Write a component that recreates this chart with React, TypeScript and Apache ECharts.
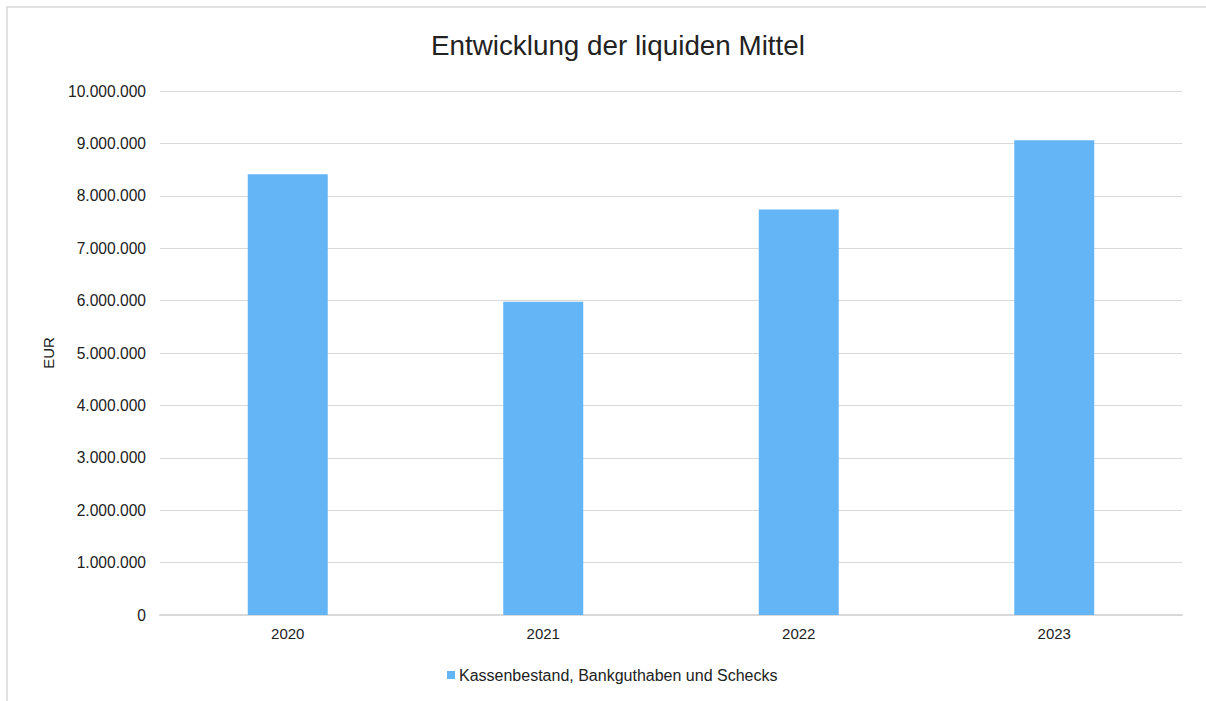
import React, { useEffect, useRef } from "react";
import * as echarts from "echarts";

const categories: string[] = ["2020", "2021", "2022", "2023"];
const seriesName = "Kassenbestand, Bankguthaben und Schecks";
const values: number[] = [8410000, 5980000, 7740000, 9060000];
const yMin = 0;
const yMax = 10000000;
const yInterval = 1000000;

const fmt = (v: number): string =>
  String(Math.round(v)).replace(/\B(?=(\d{3})+(?!\d))/g, ".");

const FONT = "'Liberation Sans', Arial, Helvetica, sans-serif";
const TEXT = "#222222";

export default function App() {
  const ref = useRef<HTMLDivElement>(null);
  useEffect(() => {
    if (!ref.current) return;
    const chart = echarts.init(ref.current, undefined, { renderer: "svg" });
    chart.setOption({
      animation: false,
      backgroundColor: "#ffffff",
      textStyle: { fontFamily: FONT, color: TEXT },
      graphic: [
        {
          type: "rect",
          shape: { x: 7, y: 7, width: 1400, height: 900 },
          style: { fill: "none", stroke: "#D9D9D9", lineWidth: 1.5 },
          silent: true,
          z: -10,
        },
      ],
      title: {
        text: "Entwicklung der liquiden Mittel",
        left: 431,
        top: 31,
        padding: 0,
        textStyle: {
          fontFamily: FONT,
          fontSize: 27.8,
          fontWeight: "normal",
          color: TEXT,
        },
      },
      legend: {
        data: [seriesName],
        left: 447,
        top: 667,
        padding: 0,
        itemWidth: 8,
        itemHeight: 8,
        itemGap: 10,
        icon: "rect",
        textStyle: {
          fontFamily: FONT,
          fontSize: 16,
          color: TEXT,
          padding: [0, 0, 0, -1],
        },
      },
      grid: {
        left: 160,
        right: 24,
        top: 91,
        bottom: 86,
        containLabel: false,
      },
      xAxis: {
        type: "category",
        data: categories,
        axisLine: { show: true, lineStyle: { color: "#D9D9D9", width: 2 } },
        axisTick: { show: false },
        axisLabel: {
          fontFamily: FONT,
          fontSize: 15,
          color: TEXT,
          margin: 11,
        },
        splitLine: { show: false },
      },
      yAxis: {
        type: "value",
        min: yMin,
        max: yMax,
        interval: yInterval,
        name: "EUR",
        nameLocation: "middle",
        nameGap: 104,
        nameRotate: 90,
        nameTextStyle: { fontFamily: FONT, fontSize: 15, color: TEXT },
        axisLine: { show: false },
        axisTick: { show: false },
        axisLabel: {
          fontFamily: FONT,
          fontSize: 15.6,
          color: TEXT,
          margin: 14,
          formatter: (v: number) => fmt(v),
        },
        splitLine: { show: true, lineStyle: { color: "#D9D9D9", width: 1 } },
      },
      series: [
        {
          name: seriesName,
          type: "bar",
          data: values,
          barWidth: "31.3%",
          itemStyle: { color: "#64B5F6" },
        },
      ],
    });
    return () => chart.dispose();
  }, []);
  return (
    <div
      ref={ref}
      style={{ position: "absolute", left: 0, top: 0, width: 1206, height: 701 }}
    />
  );
}
